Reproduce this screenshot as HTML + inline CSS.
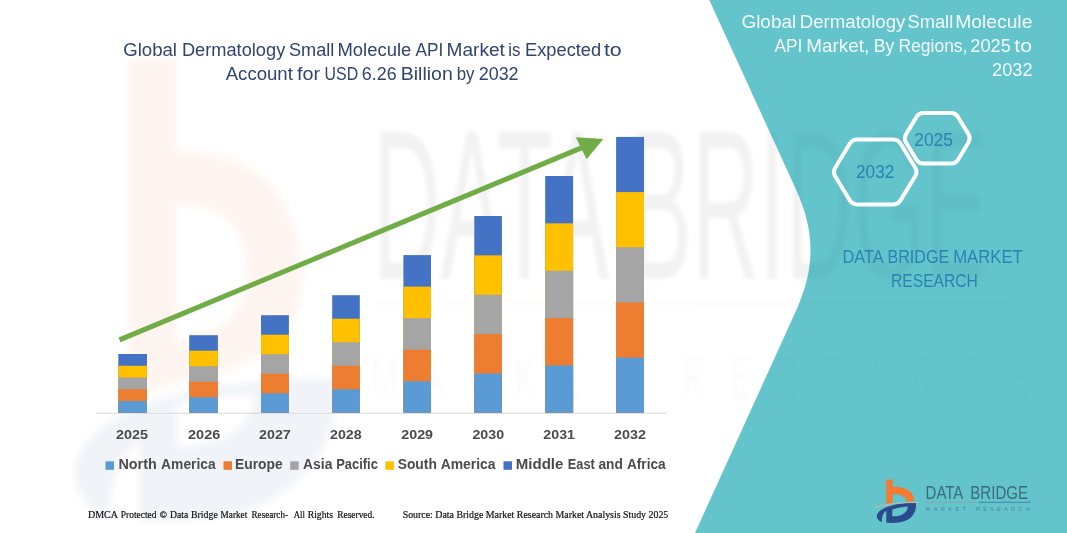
<!DOCTYPE html>
<html>
<head>
<meta charset="utf-8">
<title>Global Dermatology Small Molecule API Market</title>
<style>
html,body{margin:0;padding:0;background:#fff;}
body{width:1067px;height:533px;overflow:hidden;font-family:"Liberation Sans",sans-serif;}
svg{display:block;}
.t{font-family:"Liberation Sans",sans-serif;}
.s{font-family:"Liberation Serif",serif;}
</style>
</head>
<body>
<svg width="1067" height="533" viewBox="0 0 1067 533">
<defs>
  <filter id="blur1" x="-5%" y="-5%" width="110%" height="110%"><feGaussianBlur stdDeviation="2.2"/></filter>
  <filter id="blur2" x="-5%" y="-5%" width="110%" height="110%"><feGaussianBlur stdDeviation="3"/></filter>
  <clipPath id="pc"><path d="M709.3 0 L795.8 189 C815.5 232.3 815.4 268.2 795.7 311.5 L695 533 L1067 533 L1067 0 Z"/></clipPath>
</defs>
<rect width="1067" height="533" fill="#ffffff"/>

<!-- faint watermark logo (left) -->
<g filter="url(#blur2)">
  <path opacity="0.075" fill-rule="evenodd" d="M128 58 L177 58 L177 150 C260 150 302 200 302 275 C302 335 270 365 177 383 L128 398 Z M177 205 C222 205 246 228 246 272 C246 310 226 332 177 342 Z" fill="#ed7d31"/>
  <path opacity="0.06" fill-rule="evenodd" d="M75 470 C80 430 130 402 210 388 C260 380 300 377 336 379 C339 420 325 470 270 500 C230 520 180 523 140 521 L140 442 C120 452 110 480 108 519 C90 511 75 495 75 470 Z M176 404 C200 398 228 395 254 394 C252 424 232 446 176 447 Z" fill="#2b4a8a"/>
</g>

<!-- faint watermark text on white -->
<g opacity="0.052" fill="#000" class="t" filter="url(#blur1)">
  <text x="373" y="279" font-size="214" textLength="615" lengthAdjust="spacingAndGlyphs">DATA BRIDGE</text>
  <g transform="translate(372,398) scale(0.5,1)" opacity="0.4"><text x="0" y="0" font-size="62" textLength="1316" lengthAdjust="spacing">MARKET RESEARCH</text></g>
  <rect x="375" y="302.5" width="320" height="2" fill="#c60" opacity="0.8"/><rect x="695" y="302.5" width="320" height="2" fill="#036" opacity="0.8"/>
</g>

<!-- teal panel -->
<path d="M709.3 0 L795.8 189 C815.5 232.3 815.4 268.2 795.7 311.5 L695 533 L1067 533 L1067 0 Z" fill="#63c4cc"/>

<!-- faint watermark text over teal -->
<g opacity="0.032" fill="#000" class="t" filter="url(#blur1)" clip-path="url(#pc)">
  <text x="373" y="279" font-size="214" textLength="615" lengthAdjust="spacingAndGlyphs">DATA BRIDGE</text>
  <g transform="translate(372,398) scale(0.5,1)" opacity="0.4"><text x="0" y="0" font-size="62" textLength="1316" lengthAdjust="spacing">MARKET RESEARCH</text></g>
  <rect x="375" y="302.5" width="320" height="2" fill="#c60" opacity="0.8"/><rect x="695" y="302.5" width="320" height="2" fill="#036" opacity="0.8"/>
</g>

<!-- chart title -->
<g class="t" fill="#2f4470" font-size="17.5">
  <text x="123.2" y="56.0" textLength="53.8" lengthAdjust="spacingAndGlyphs">Global</text>
  <text x="181.9" y="56.0" textLength="103.4" lengthAdjust="spacingAndGlyphs">Dermatology</text>
  <text x="289.0" y="56.0" textLength="45.4" lengthAdjust="spacingAndGlyphs">Small</text>
  <text x="337.5" y="56.0" textLength="73.8" lengthAdjust="spacingAndGlyphs">Molecule</text>
  <text x="415.5" y="56.0" textLength="27.7" lengthAdjust="spacingAndGlyphs">API</text>
  <text x="446.6" y="56.0" textLength="58.3" lengthAdjust="spacingAndGlyphs">Market</text>
  <text x="508.2" y="56.0" textLength="12.1" lengthAdjust="spacingAndGlyphs">is</text>
  <text x="525.1" y="56.0" textLength="76.0" lengthAdjust="spacingAndGlyphs">Expected</text>
  <text x="603.9" y="56.0" textLength="17.8" lengthAdjust="spacingAndGlyphs">to</text>
  <text x="225.7" y="79.7" textLength="67.2" lengthAdjust="spacingAndGlyphs">Account</text>
  <text x="297.1" y="79.7" textLength="23.1" lengthAdjust="spacingAndGlyphs">for</text>
  <text x="324.6" y="79.7" textLength="33.5" lengthAdjust="spacingAndGlyphs">USD</text>
  <text x="361.8" y="79.7" textLength="34.8" lengthAdjust="spacingAndGlyphs">6.26</text>
  <text x="400.8" y="79.7" textLength="52.0" lengthAdjust="spacingAndGlyphs">Billion</text>
  <text x="456.7" y="79.7" textLength="17.8" lengthAdjust="spacingAndGlyphs">by</text>
  <text x="478.7" y="79.7" textLength="39.9" lengthAdjust="spacingAndGlyphs">2032</text>
</g>

<!-- axis -->
<line x1="96" y1="413.3" x2="666" y2="413.3" stroke="#d9d9d9" stroke-width="1"/>

<!-- bars -->
<g>
  <rect x="118.3" y="354.00" width="28.7" height="58.80" fill="#4472c4"/>
  <rect x="118.3" y="365.76" width="28.7" height="47.04" fill="#ffc000"/>
  <rect x="118.3" y="377.52" width="28.7" height="35.28" fill="#a5a5a5"/>
  <rect x="118.3" y="389.28" width="28.7" height="23.52" fill="#ed7d31"/>
  <rect x="118.3" y="401.04" width="28.7" height="11.76" fill="#5b9bd5"/>
  <rect x="189.2" y="335.20" width="28.7" height="77.60" fill="#4472c4"/>
  <rect x="189.2" y="350.72" width="28.7" height="62.08" fill="#ffc000"/>
  <rect x="189.2" y="366.24" width="28.7" height="46.56" fill="#a5a5a5"/>
  <rect x="189.2" y="381.76" width="28.7" height="31.04" fill="#ed7d31"/>
  <rect x="189.2" y="397.28" width="28.7" height="15.52" fill="#5b9bd5"/>
  <rect x="261.0" y="315.20" width="27.9" height="97.60" fill="#4472c4"/>
  <rect x="261.0" y="334.72" width="27.9" height="78.08" fill="#ffc000"/>
  <rect x="261.0" y="354.24" width="27.9" height="58.56" fill="#a5a5a5"/>
  <rect x="261.0" y="373.76" width="27.9" height="39.04" fill="#ed7d31"/>
  <rect x="261.0" y="393.28" width="27.9" height="19.52" fill="#5b9bd5"/>
  <rect x="332.2" y="295.20" width="27.6" height="117.60" fill="#4472c4"/>
  <rect x="332.2" y="318.72" width="27.6" height="94.08" fill="#ffc000"/>
  <rect x="332.2" y="342.24" width="27.6" height="70.56" fill="#a5a5a5"/>
  <rect x="332.2" y="365.76" width="27.6" height="47.04" fill="#ed7d31"/>
  <rect x="332.2" y="389.28" width="27.6" height="23.52" fill="#5b9bd5"/>
  <rect x="403.4" y="255.10" width="27.6" height="157.70" fill="#4472c4"/>
  <rect x="403.4" y="286.64" width="27.6" height="126.16" fill="#ffc000"/>
  <rect x="403.4" y="318.18" width="27.6" height="94.62" fill="#a5a5a5"/>
  <rect x="403.4" y="349.72" width="27.6" height="63.08" fill="#ed7d31"/>
  <rect x="403.4" y="381.26" width="27.6" height="31.54" fill="#5b9bd5"/>
  <rect x="474.3" y="216.00" width="27.6" height="196.80" fill="#4472c4"/>
  <rect x="474.3" y="255.36" width="27.6" height="157.44" fill="#ffc000"/>
  <rect x="474.3" y="294.72" width="27.6" height="118.08" fill="#a5a5a5"/>
  <rect x="474.3" y="334.08" width="27.6" height="78.72" fill="#ed7d31"/>
  <rect x="474.3" y="373.44" width="27.6" height="39.36" fill="#5b9bd5"/>
  <rect x="545.2" y="176.00" width="27.9" height="236.80" fill="#4472c4"/>
  <rect x="545.2" y="223.36" width="27.9" height="189.44" fill="#ffc000"/>
  <rect x="545.2" y="270.72" width="27.9" height="142.08" fill="#a5a5a5"/>
  <rect x="545.2" y="318.08" width="27.9" height="94.72" fill="#ed7d31"/>
  <rect x="545.2" y="365.44" width="27.9" height="47.36" fill="#5b9bd5"/>
  <rect x="616.1" y="136.90" width="27.9" height="275.90" fill="#4472c4"/>
  <rect x="616.1" y="192.08" width="27.9" height="220.72" fill="#ffc000"/>
  <rect x="616.1" y="247.26" width="27.9" height="165.54" fill="#a5a5a5"/>
  <rect x="616.1" y="302.44" width="27.9" height="110.36" fill="#ed7d31"/>
  <rect x="616.1" y="357.62" width="27.9" height="55.18" fill="#5b9bd5"/>
</g>

<!-- arrow -->
<g>
  <line x1="119.5" y1="339.9" x2="585" y2="146.4" stroke="#70ad47" stroke-width="5"/>
  <path d="M575.8 137.2 L603.4 139.0 L586.6 159.2 Z" fill="#70ad47"/>
</g>

<!-- x labels -->
<g class="t" font-weight="bold" font-size="13.6" fill="#4b4b4e">
  <text x="116.0" y="439.1" textLength="32.0" lengthAdjust="spacingAndGlyphs">2025</text>
  <text x="188.0" y="439.1" textLength="32.3" lengthAdjust="spacingAndGlyphs">2026</text>
  <text x="259.1" y="439.1" textLength="31.7" lengthAdjust="spacingAndGlyphs">2027</text>
  <text x="330.0" y="439.1" textLength="31.7" lengthAdjust="spacingAndGlyphs">2028</text>
  <text x="401.3" y="439.1" textLength="31.7" lengthAdjust="spacingAndGlyphs">2029</text>
  <text x="472.4" y="439.1" textLength="31.8" lengthAdjust="spacingAndGlyphs">2030</text>
  <text x="543.3" y="439.1" textLength="31.7" lengthAdjust="spacingAndGlyphs">2031</text>
  <text x="614.1" y="439.1" textLength="32.0" lengthAdjust="spacingAndGlyphs">2032</text>
</g>

<!-- legend -->
<g>
  <rect x="105.5" y="461.3" width="8.5" height="8.5" fill="#5b9bd5"/>
  <rect x="223.5" y="461.3" width="8.5" height="8.5" fill="#ed7d31"/>
  <rect x="290.2" y="461.3" width="8.5" height="8.5" fill="#a5a5a5"/>
  <rect x="385.4" y="461.3" width="8.5" height="8.5" fill="#ffc000"/>
  <rect x="503.5" y="461.3" width="8.5" height="8.5" fill="#4472c4"/>
</g>
<g class="t" font-weight="bold" font-size="14" fill="#4b4b4e">
  <text x="118.4" y="469.2" textLength="38.3" lengthAdjust="spacingAndGlyphs">North</text>
  <text x="161.1" y="469.2" textLength="54.6" lengthAdjust="spacingAndGlyphs">America</text>
  <text x="235.0" y="469.2" textLength="47.6" lengthAdjust="spacingAndGlyphs">Europe</text>
  <text x="303.1" y="469.2" textLength="29.3" lengthAdjust="spacingAndGlyphs">Asia</text>
  <text x="336.2" y="469.2" textLength="41.7" lengthAdjust="spacingAndGlyphs">Pacific</text>
  <text x="397.7" y="469.2" textLength="39.2" lengthAdjust="spacingAndGlyphs">South</text>
  <text x="440.7" y="469.2" textLength="54.9" lengthAdjust="spacingAndGlyphs">America</text>
  <text x="515.8" y="469.2" textLength="47.6" lengthAdjust="spacingAndGlyphs">Middle</text>
  <text x="567.8" y="469.2" textLength="27.0" lengthAdjust="spacingAndGlyphs">East</text>
  <text x="598.4" y="469.2" textLength="24.4" lengthAdjust="spacingAndGlyphs">and</text>
  <text x="626.9" y="469.2" textLength="38.8" lengthAdjust="spacingAndGlyphs">Africa</text>
</g>

<!-- footer -->
<g class="s" font-size="9.9" fill="#111" stroke="#111" stroke-width="0.2">
  <text x="87.9" y="517.7" textLength="30.1" lengthAdjust="spacingAndGlyphs">DMCA</text>
  <text x="120.8" y="517.7" textLength="35.7" lengthAdjust="spacingAndGlyphs">Protected</text>
  <text x="160.1" y="517.7" textLength="6.7" lengthAdjust="spacingAndGlyphs"><tspan font-family="Liberation Sans" font-size="8.5">©</tspan></text>
  <text x="170.0" y="517.7" textLength="18.2" lengthAdjust="spacingAndGlyphs">Data</text>
  <text x="191.0" y="517.7" textLength="26.8" lengthAdjust="spacingAndGlyphs">Bridge</text>
  <text x="220.6" y="517.7" textLength="26.7" lengthAdjust="spacingAndGlyphs">Market</text>
  <text x="251.5" y="517.7" textLength="36.5" lengthAdjust="spacingAndGlyphs">Research-</text>
  <text x="293.7" y="517.7" textLength="11.2" lengthAdjust="spacingAndGlyphs">All</text>
  <text x="307.7" y="517.7" textLength="25.3" lengthAdjust="spacingAndGlyphs">Rights</text>
  <text x="337.2" y="517.7" textLength="37.4" lengthAdjust="spacingAndGlyphs">Reserved.</text>
  <text x="402.7" y="517.5" textLength="265.6" lengthAdjust="spacingAndGlyphs">Source: Data Bridge Market Research  Market Analysis Study 2025</text>
</g>

<!-- right panel title -->
<g class="t" fill="#f4fcfc" font-size="17.9">
  <text x="741.4" y="27.9" textLength="54.8" lengthAdjust="spacingAndGlyphs">Global</text>
  <text x="799.8" y="27.9" textLength="105.6" lengthAdjust="spacingAndGlyphs">Dermatology</text>
  <text x="907.6" y="27.9" textLength="45.6" lengthAdjust="spacingAndGlyphs">Small</text>
  <text x="955.2" y="27.9" textLength="77.2" lengthAdjust="spacingAndGlyphs">Molecule</text>
  <text x="774.6" y="51.6" textLength="27.8" lengthAdjust="spacingAndGlyphs">API</text>
  <text x="806.2" y="51.6" textLength="63.0" lengthAdjust="spacingAndGlyphs">Market,</text>
  <text x="873.8" y="51.6" textLength="20.6" lengthAdjust="spacingAndGlyphs">By</text>
  <text x="898.4" y="51.6" textLength="69.1" lengthAdjust="spacingAndGlyphs">Regions,</text>
  <text x="970.3" y="51.6" textLength="40.5" lengthAdjust="spacingAndGlyphs">2025</text>
  <text x="1014.3" y="51.6" textLength="17.5" lengthAdjust="spacingAndGlyphs">to</text>
  <text x="992.1" y="75.6" textLength="40.5" lengthAdjust="spacingAndGlyphs">2032</text>
</g>

<!-- hexagons -->
<g fill="none" stroke="#ffffff" stroke-width="4" stroke-linejoin="round">
  <path d="M835.2 176.3 Q832.6 172.0 835.2 167.7 L849.7 143.8 Q852.3 139.5 857.3 139.5 L893.0 139.5 Q898.0 139.5 900.6 143.8 L915.2 167.7 Q917.8 172.0 915.2 176.3 L900.6 200.1 Q898.0 204.4 893.0 204.4 L857.3 204.4 Q852.3 204.4 849.7 200.1 Z"/>
  <path d="M905.9 142.2 Q903.6 138.3 905.9 134.4 L916.5 116.9 Q918.8 113.0 923.3 113.0 L951.2 113.0 Q955.7 113.0 958.0 116.9 L968.6 134.4 Q970.9 138.3 968.6 142.2 L958.0 159.7 Q955.7 163.6 951.2 163.6 L923.3 163.6 Q918.8 163.6 916.5 159.7 Z"/>
</g>
<g class="t" fill="#2c82b2" font-size="19">
  <text x="856.0" y="178.2" textLength="38.3" lengthAdjust="spacingAndGlyphs">2032</text>
  <text x="914.2" y="145.6" textLength="38.8" lengthAdjust="spacingAndGlyphs">2025</text>
</g>

<!-- DATA BRIDGE MARKET RESEARCH -->
<g class="t" fill="#2c82b2" font-size="17.8">
  <text x="842.4" y="263.3" textLength="41.2" lengthAdjust="spacingAndGlyphs">DATA</text>
  <text x="887.4" y="263.3" textLength="61.9" lengthAdjust="spacingAndGlyphs">BRIDGE</text>
  <text x="953.2" y="263.3" textLength="69.6" lengthAdjust="spacingAndGlyphs">MARKET</text>
  <text x="891.0" y="286.6" textLength="86.9" lengthAdjust="spacingAndGlyphs">RESEARCH</text>
</g>

<!-- logo -->
<g id="logo">
  <path d="M886.3 479.4 L892.7 479.4 L892.7 487.0 C903 486.0 913.5 490 914.6 501.2 L906.5 501.4 C906 496.5 901 493.6 892.7 494 L892.7 503.0 L886.3 504.2 Z" fill="#f47b30"/>
  <path d="M876.8 515.8 C878 510 886 506.5 897 504.3 C905 503 911 502.8 916 503 C916.5 510 914 517 906 520.5 C900 523 893 523 886.3 522.8 L886.3 510.8 C883.5 512.5 881.8 516 881.8 522.0 C878.5 521 876.5 518.5 876.8 515.8 Z M892.3 509.6 C897 507.6 902 506.8 907.8 506.4 C907.5 512 903 516.3 892.3 516.3 Z" fill="#2b4a8c" fill-rule="evenodd"/>
  <path d="M874.4 507.6 Q894 501.6 918 502.6" stroke="#e9b99a" stroke-width="0.7" fill="none"/>
  <g class="t" fill="#3d6b7d" font-size="18.4">
    <text x="925.6" y="499.4" textLength="37.7" lengthAdjust="spacingAndGlyphs">DATA</text>
    <text x="970.3" y="499.4" textLength="57.7" lengthAdjust="spacingAndGlyphs">BRIDGE</text>
  </g>
  <line x1="926.2" y1="502.3" x2="975.7" y2="502.3" stroke="#8f9f98" stroke-width="0.8"/>
  <line x1="978.5" y1="502.3" x2="1030.8" y2="502.3" stroke="#3f7fae" stroke-width="0.9"/>
  <g class="t" fill="#3f7489" font-size="5.8" opacity="0.75">
    <text x="925.6" y="511.4" textLength="40.5" lengthAdjust="spacing">MARKET</text>
    <text x="975.9" y="511.4" textLength="53.8" lengthAdjust="spacing">RESEARCH</text>
  </g>
</g>
</svg>
</body>
</html>
